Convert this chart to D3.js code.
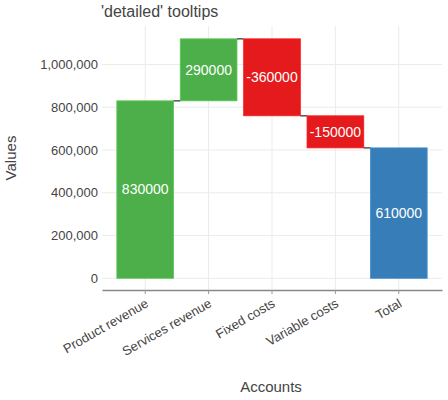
<!DOCTYPE html>
<html><head><meta charset="utf-8">
<script src="https://cdn.jsdelivr.net/npm/d3@7"></script>
<style>
body{margin:0;background:#fff;}
text{font-family:"Liberation Sans",Arial,sans-serif;}
</style></head>
<body><svg id="chart" width="448" height="400"></svg>
<script>
const categories = ["Product revenue","Services revenue","Fixed costs","Variable costs","Total"];
const values = [830000, 290000, -360000, -150000, 610000];
const isTotal = [false,false,false,false,true];
const yTicks = [0,200000,400000,600000,800000,1000000];
const yDomainMax = 1180000;
const title = "'detailed' tooltips";
const xTitle = "Accounts", yTitle = "Values";

const svg = d3.select("#chart");
const L=102, R=442, T=26, B=278.3, axisY=290;
const x = d3.scaleBand().domain(categories).range([L,R]).paddingInner(0.105).paddingOuter(0.234);
const y = d3.scaleLinear().domain([0,yDomainMax]).range([B,T]);

let run=0;
const bars = categories.map((c,i)=>{
  let start,end;
  if(isTotal[i]){start=0;end=values[i];run=values[i];}
  else{start=run;end=run+values[i];run=end;}
  return {c,v:values[i],start,end,total:isTotal[i]};
});
const color = d => d.total ? "#377eb8" : (d.v>=0 ? "#4daf4a" : "#e41a1c");

const g = svg.append("g");
g.selectAll(".hg").data(yTicks).join("line")
  .attr("x1",L).attr("x2",R).attr("y1",d=>y(d)).attr("y2",d=>y(d))
  .attr("stroke","#ebebeb").attr("stroke-width",1);
g.selectAll(".vg").data(categories).join("line")
  .attr("x1",d=>x(d)+x.bandwidth()/2).attr("x2",d=>x(d)+x.bandwidth()/2)
  .attr("y1",T).attr("y2",axisY)
  .attr("stroke","#ebebeb").attr("stroke-width",1);

const yAxis = d3.axisLeft(y).tickValues(yTicks).tickFormat(d3.format(",")).tickSize(0).tickPadding(0);
const ya = svg.append("g").attr("transform",`translate(${L-4},0)`).call(yAxis);
ya.select(".domain").remove();
ya.selectAll("text").attr("fill","#444").style("font-size","13px").style("font-family","'Liberation Sans',Arial,sans-serif");

svg.selectAll(".bar").data(bars).join("rect")
  .attr("x",d=>x(d.c)).attr("width",x.bandwidth())
  .attr("y",d=>y(Math.max(d.start,d.end)))
  .attr("height",d=>Math.abs(y(d.start)-y(d.end)))
  .attr("fill",color)
  .attr("stroke",d=>d3.color(color(d)).brighter(0.4))
  .attr("stroke-width",0.8);

svg.selectAll(".conn").data(bars.slice(0,-1)).join("line")
  .attr("x1",(d,i)=>x(d.c)+x.bandwidth())
  .attr("x2",(d,i)=>x(categories[i+1]))
  .attr("y1",d=>y(d.end)).attr("y2",d=>y(d.end))
  .attr("stroke","#555").attr("stroke-width",1.5);

svg.selectAll(".lbl").data(bars).join("text")
  .attr("x",d=>x(d.c)+x.bandwidth()/2)
  .attr("y",d=>(y(d.start)+y(d.end))/2)
  .attr("dy","0.35em").attr("text-anchor","middle")
  .attr("fill","#fff").style("font-size","14px")
  .text(d=>d.v);

const xAxis = d3.axisBottom(x).tickSize(4).tickSizeOuter(0).tickPadding(0);
const xa = svg.append("g").attr("transform",`translate(0,${axisY})`).call(xAxis);
xa.select(".domain").attr("stroke","#888").attr("stroke-width",1.5);
xa.selectAll(".tick line").attr("stroke","#999");
xa.selectAll("text")
  .attr("fill","#444").style("font-size","13px").style("font-family","'Liberation Sans',Arial,sans-serif")
  .attr("text-anchor","end").attr("dy",null).attr("y",null)
  .attr("transform","translate(4,16) rotate(-30)");

svg.append("text").attr("x",101).attr("y",17).attr("fill","#444").style("font-size","16px").text(title);
svg.append("text").attr("x",271).attr("y",392).attr("text-anchor","middle").attr("fill","#444").style("font-size","15px").text(xTitle);
svg.append("text").attr("transform","translate(16,158) rotate(-90)").attr("text-anchor","middle").attr("fill","#444").style("font-size","15px").text(yTitle);
</script></body></html>
